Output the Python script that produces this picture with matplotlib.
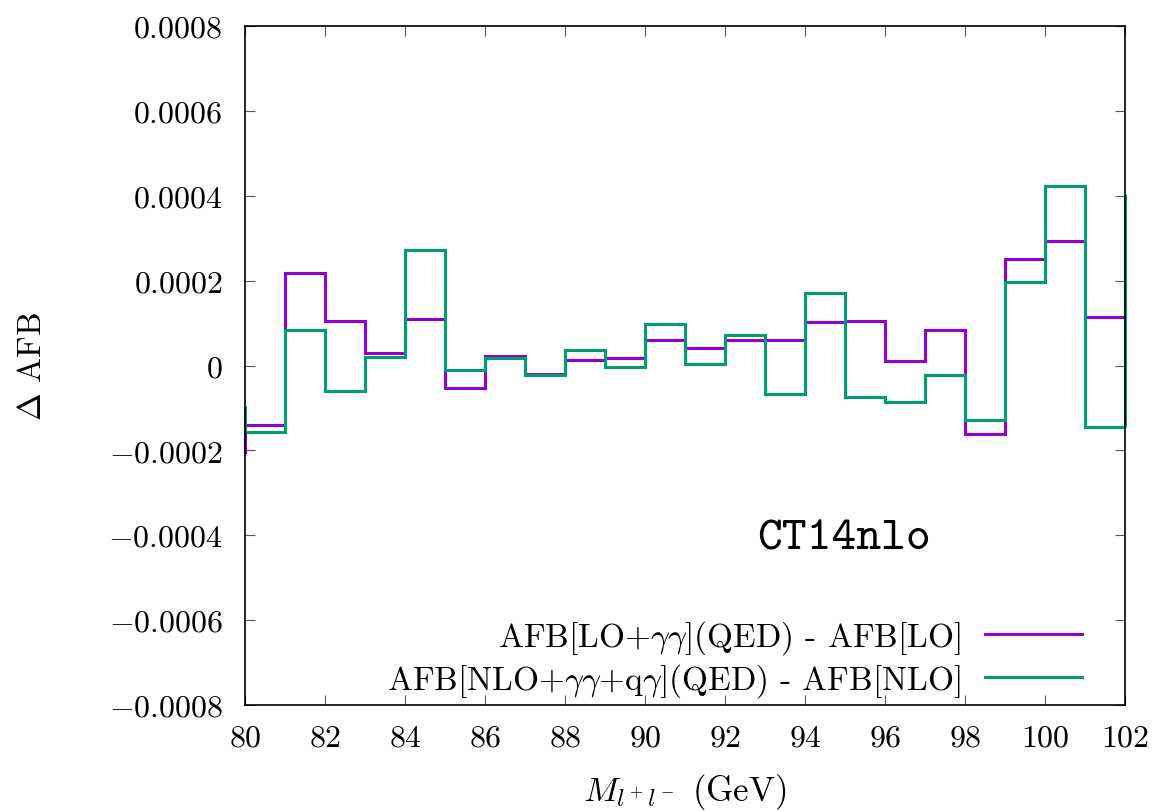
import matplotlib
matplotlib.use("Agg")
import matplotlib.pyplot as plt
from matplotlib.ticker import FuncFormatter, MultipleLocator
import numpy as np

plt.rcParams["font.family"] = "serif"
plt.rcParams["font.serif"] = ["cmr10"]
plt.rcParams["mathtext.fontset"] = "cm"
plt.rcParams["axes.formatter.use_mathtext"] = True
plt.rcParams["axes.unicode_minus"] = False

# bin edges (GeV)
edges = np.arange(80, 103, 1)

# AFB[LO+yy](QED) - AFB[LO]
lo_diff = [-0.000140, 0.000218, 0.000104, 0.0000295, 0.000109,
           -0.000054, 0.000023, -0.000019, 0.000013, 0.000017,
           0.000060, 0.000041, 0.000060, 0.000060, 0.0001025,
           0.0001056, 0.000010, 0.0000845, -0.000161, 0.000252,
           0.000293, 0.000115]
# neighbouring bins just outside the shown range (only their step edge shows)
lo_outside = [-0.000208, 0.000300]

# AFB[NLO+yy+qy](QED) - AFB[NLO]
nlo_diff = [-0.000156, 0.0000845, -0.000061, 0.000021, 0.000271,
            -0.0000098, 0.0000177, -0.000023, 0.0000365, -0.0000035,
            0.0000985, 0.0000035, 0.0000726, -0.0000664, 0.000170,
            -0.0000735, -0.000086, -0.0000216, -0.000128, 0.000196,
            0.000424, -0.000145]
nlo_outside = [-0.0000955, 0.000404]

labels = [r"AFB[LO+$\gamma\gamma$](QED) - AFB[LO]",
          r"AFB[NLO+$\gamma\gamma$+q$\gamma$](QED) - AFB[NLO]"]
colors = ["#9400d3", "#009e73"]

fig = plt.figure(figsize=(11.54, 8.12), dpi=100)
ax = fig.add_axes([245/1154, 1-706/812, 880/1154, 679/812])

for vals, outside, c, lab in [(lo_diff, lo_outside, colors[0], labels[0]),
                              (nlo_diff, nlo_outside, colors[1], labels[1])]:
    ax.stairs(vals, edges, baseline=None, color=c, linewidth=2.2, label=lab)
    # step edges at the ends of the range
    ax.vlines([edges[0], edges[-1]],
              [min(outside[0], vals[0]), min(vals[-1], outside[1])],
              [max(outside[0], vals[0]), max(vals[-1], outside[1])],
              color=c, linewidth=2.2, clip_on=False)

ax.set_xlim(80, 102)
ax.set_ylim(-0.0008, 0.0008)
ax.xaxis.set_major_locator(MultipleLocator(2))
ax.yaxis.set_major_locator(MultipleLocator(0.0002))

def yfmt(v, pos):
    if abs(v) < 1e-12:
        return "$0$"
    return f"${v:.4f}$"

ax.yaxis.set_major_formatter(FuncFormatter(yfmt))
ax.xaxis.set_major_formatter(FuncFormatter(lambda v, p: f"${v:.0f}$"))

ax.tick_params(direction="in", length=7, width=0.8, color="#555555",
               top=True, right=True, labelsize=23)
ax.tick_params(axis="y", pad=16)
ax.tick_params(axis="x", pad=14)
for s in ax.spines.values():
    s.set_linewidth(1.2)

ax.set_xlabel(r"$M_{l^+l^-}$ (GeV)", fontsize=25)
ax.xaxis.set_label_coords(0.5, -0.097)
ax.set_ylabel(r"$\Delta$ AFB", fontsize=24)
ax.yaxis.set_label_coords(-0.225, 0.5)

ax.text(92.8, -0.000432, "CT14nlo", family="cmtt10", fontsize=34, va="baseline")

ax.legend(loc="lower right", bbox_to_anchor=(1082/1154, 1-700/812),
          bbox_transform=fig.transFigure, frameon=False, markerfirst=False,
          fontsize=24, handlelength=2.9, handletextpad=0.75, labelspacing=0.15,
          borderpad=0, borderaxespad=0)

fig.savefig("out.png", dpi=100)
